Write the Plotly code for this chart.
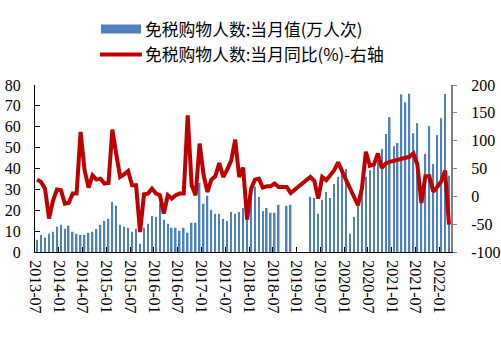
import pandas as pd
import plotly.graph_objects as go

# Monthly duty-free shopper counts (10k persons) and year-on-year growth (%)
months = pd.date_range("2013-07-01", periods=105, freq="MS")

visitors = [
    5.9, 8.2, 6.8, 8.7, 9.7, 12.1,                                    # 2013
    13.0, 11.1, 12.6, 9.7, 8.7, 8.2, 8.2, 9.2, 9.7, 11.1, 13.0, 14.9,  # 2014
    15.9, 24.0, 22.1, 13.0, 12.1, 11.6, 9.7, 11.1, 4.0, 11.6, 13.5, 17.3,  # 2015
    16.8, 23.1, 15.4, 13.5, 11.6, 11.6, 10.2, 11.6, 9.2, 14.0, 14.0, 33.1,  # 2016
    23.1, 26.9, 20.2, 18.3, 18.3, 15.9, 14.9, 19.2, 18.3, 19.2, 21.1, 22.0,  # 2017
    30.0, 31.2, 26.4, 19.7, 21.1, 18.8, 18.8, 22.6, None, 22.1, 22.6, None,  # 2018
    None, None, None, 26.4, 25.9, 18.3, 25.0, 28.8, 25.9, 32.6, 35.9, 37.8,  # 2019
    39.8, 8.7, 16.8, 22.3, 32.3, 36.0, 39.2, 42.0, 46.0, 49.3, 56.5, 64.6,  # 2020
    50.7, 52.2, 75.5, 71.7, 75.8, 56.9, 61.7, 25.0, 47.0, 60.3, 42.1, 56.0,  # 2021
    64.1, 75.7, 36.5,                                                  # 2022
]

yoy = [
    30.0, 25.8, 13.9, -40.0, -8.0, 12.1,                                   # 2013
    10.9, -13.1, -11.9, 4.9, 4.9, 115.6, 46.8, 15.7, 37.8, 30.0, 31.8, 22.9,  # 2014
    24.0, 119.8, 76.7, 34.8, 39.6, 45.6, 19.8, 19.8, -64.0, 3.7, 4.9, 13.9,  # 2015
    4.9, 1.9, -31.0, 1.9, -4.1, 1.9, 4.9, 4.9, 145.6, 19.8, 1.9, 94.7,     # 2016
    37.8, 7.9, 30.0, 36.0, 59.9, 34.8, 48.0, 64.7, 101.9, 34.8, 51.6, -41.8,  # 2017
    13.9, 30.0, 31.8, 15.7, 18.1, 18.1, 22.9, 16.9, None, 16.9, 6.1, None,  # 2018
    None, None, None, 35.0, 28.0, -4.0, 35.0, 29.0, 38.0, 47.0, 61.0, 44.0,  # 2019
    29.0, None, None, -16.0, 14.0, 80.0, 55.0, 57.0, 77.0, 51.0, 59.0, 62.0,  # 2020
    64.0, 66.0, 67.0, 69.0, 71.0, 77.0, 57.0, -12.0, 36.0, 36.0, 8.0, 17.0,  # 2021
    27.0, 46.0, -51.0,                                                     # 2022
]

left_ticks = [0, 10, 20, 30, 40, 50, 60, 70, 80]
right_ticks = [-100, -50, 0, 50, 100, 150, 200]
right_tick_labels = ["-100", "-50", "0", "50", "100", "150", "200"]

BAR_NAME = "免税购物人数:当月值(万人次)"
LINE_NAME = "免税购物人数:当月同比(%)-右轴"

BAR_COLOR = "#4F81BD"
LINE_COLOR = "#C00000"
TICK_FONT = dict(family="Liberation Serif, Times New Roman, serif", size=16, color="black")
LEGEND_FONT = dict(family="Noto Sans CJK SC, sans-serif", size=16.8, color="black")

fig = go.Figure()

fig.add_trace(go.Bar(
    x=months, y=visitors, name=BAR_NAME, yaxis="y",
    xperiod="M1", xperiodalignment="middle",
    width=12 * 86400000,
    marker=dict(color=BAR_COLOR, line=dict(width=0)),
))

fig.add_trace(go.Scatter(
    x=months, y=yoy, name=LINE_NAME, yaxis="y2",
    xperiod="M1", xperiodalignment="middle",
    mode="lines", connectgaps=True,
    line=dict(color=LINE_COLOR, width=4),
))

fig.update_layout(
    width=501, height=342,
    margin=dict(l=35, r=50, t=85, b=90),
    paper_bgcolor="white", plot_bgcolor="white",
    showlegend=False,
    xaxis=dict(
        type="date", automargin=False,
        range=["2013-06-30 18:00", "2022-04-01"],
        tick0="2013-07-01", dtick="M6", tickformat="%Y-%m",
        tickangle=90, ticks="inside", ticklen=5, tickcolor="black",
        showline=True, linecolor="black", linewidth=1,
        showgrid=False, zeroline=False, tickfont=TICK_FONT,
        ticklabelstandoff=4,
    ),
    yaxis=dict(
        range=[0, 80], tickvals=left_ticks, automargin=False,
        ticks="inside", ticklen=5, tickcolor="black",
        showline=True, linecolor="black", linewidth=1,
        showgrid=False, zeroline=False, tickfont=TICK_FONT,
        ticklabelstandoff=10,
    ),
    yaxis2=dict(
        overlaying="y", side="right", automargin=False,
        range=[-100, 200], tickvals=right_ticks, ticktext=right_tick_labels,
        ticks="outside", ticklen=4, tickcolor="#808080",
        showline=True, linecolor="#808080", linewidth=2,
        showgrid=False, zeroline=False, tickfont=TICK_FONT,
        ticklabelstandoff=11,
    ),
)

# Hand-drawn legend above the plot
fig.add_shape(type="rect", xref="paper", yref="paper",
              x0=0.1587, x1=0.2548, y0=1.3085, y1=1.362,
              fillcolor=BAR_COLOR, line=dict(width=0))
fig.add_shape(type="line", xref="paper", yref="paper",
              x0=0.156, x1=0.257, y0=1.183, y1=1.183,
              line=dict(color=LINE_COLOR, width=4))
fig.add_annotation(xref="paper", yref="paper", x=0.2596, y=1.335,
                   xanchor="left", yanchor="middle", showarrow=False,
                   text=BAR_NAME, font=LEGEND_FONT)
fig.add_annotation(xref="paper", yref="paper", x=0.2596, y=1.183,
                   xanchor="left", yanchor="middle", showarrow=False,
                   text=LINE_NAME, font=LEGEND_FONT)

fig.write_html("out.html")
